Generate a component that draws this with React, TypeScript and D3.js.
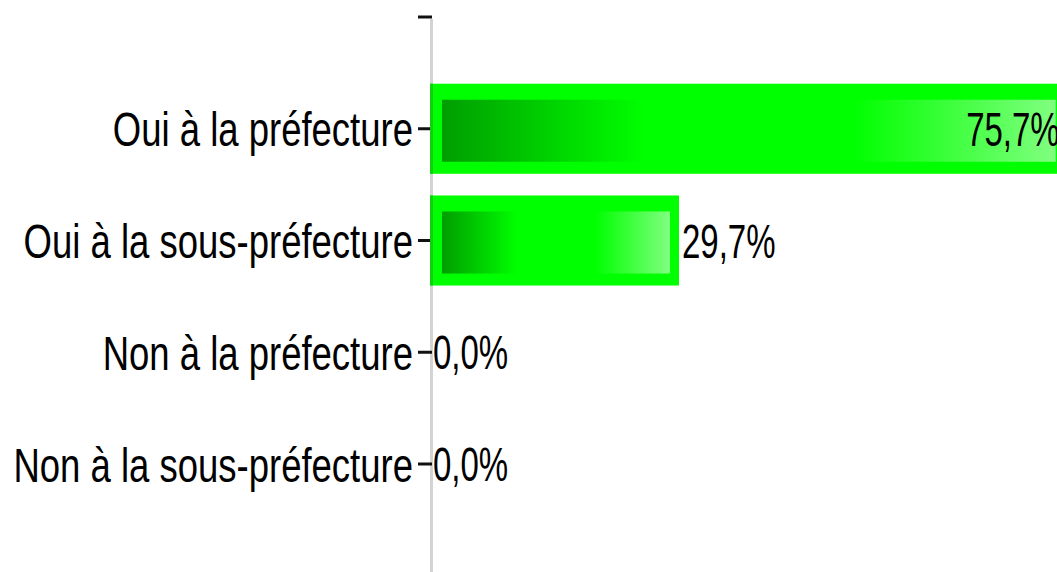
import React from "react";
import * as d3 from "d3";

const categories = [
  "Oui à la préfecture",
  "Oui à la sous-préfecture",
  "Non à la préfecture",
  "Non à la sous-préfecture",
];
const values = [75.7, 29.7, 0.0, 0.0];

const W = 1057;
const H = 572;
const FONT = "'Liberation Sans', Arial, sans-serif";

const fmt = (v: number) => d3.format(".1f")(v).replace(".", ",") + "%";

export default function App() {
  const x0 = 430;
  const x = d3.scaleLinear().domain([0, 100]).range([x0, x0 + 838.4]);
  const domain = ["__top", ...categories, "__bottom"];
  const y = d3.scalePoint<string>().domain(domain).range([17, 575.75]);
  const step = y.step();
  const barH = step * 0.806;

  const catFont = 36.5;
  const catSy = 1.33;
  const valFont = 33;
  const valSy = 1.47;

  return (
    <svg
      width={W}
      height={H}
      style={{ position: "absolute", left: 0, top: 0, background: "#fff" }}
    >
      <defs>
        <linearGradient id="barGrad" x1="0" x2="1" y1="0" y2="0">
          <stop offset="0%" stopColor="#009e00" />
          <stop offset="33%" stopColor="#00ff00" />
          <stop offset="67%" stopColor="#00ff00" />
          <stop offset="100%" stopColor="#80ff80" />
        </linearGradient>
      </defs>

      {/* axis line */}
      <line x1={x0 + 1.5} x2={x0 + 1.5} y1={19} y2={H} stroke="#d3d3d3" strokeWidth={3} />

      {/* ticks */}
      {domain
        .filter((d) => d !== "__bottom")
        .map((d) => (
          <line
            key={"t" + d}
            x1={x0 - 12}
            x2={x0 + 2}
            y1={y(d)!}
            y2={y(d)!}
            stroke="#111"
            strokeWidth={3}
          />
        ))}

      {/* bars */}
      {categories.map((c, i) => {
        const v = values[i];
        if (v <= 0) return null;
        const cy = y(c)!;
        const top = cy - barH / 2;
        const xe = x(v);
        return (
          <g key={"b" + c}>
            <rect x={x0} y={top} width={xe - x0} height={barH} fill="#00ff00" />
            <rect x={x0} y={top} width={3} height={barH} fill="#10d010" />
            <rect
              x={x0 + 12}
              y={top + 16}
              width={xe - x0 - 21}
              height={barH - 28}
              fill="url(#barGrad)"
            />
          </g>
        );
      })}

      {/* category labels */}
      {categories.map((c) => (
        <g key={"l" + c} transform={`translate(${x0 - 17},${y(c)! + 17.5}) scale(1,${catSy})`}>
          <text textAnchor="end" fontSize={catFont} fontFamily={FONT} fill="#000">
            {c}
          </text>
        </g>
      ))}

      {/* value labels */}
      {categories.map((c, i) => {
        const v = values[i];
        const xe = x(v);
        const inside = xe > W - 110;
        const lx = inside ? xe - 5 : xe + 3;
        return (
          <g key={"v" + c} transform={`translate(${lx},${y(c)! + 17}) scale(1,${valSy})`}>
            <text
              textAnchor={inside ? "end" : "start"}
              fontSize={valFont}
              fontFamily={FONT}
              fill="#000"
            >
              {fmt(v)}
            </text>
          </g>
        );
      })}
    </svg>
  );
}
